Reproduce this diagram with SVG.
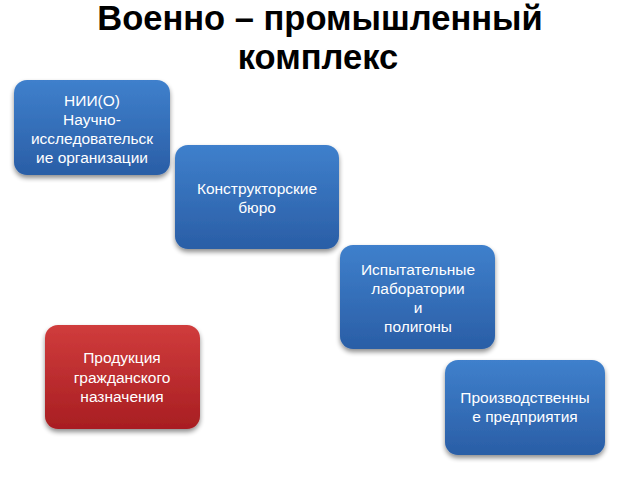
<svg xmlns="http://www.w3.org/2000/svg" width="640" height="480" viewBox="0 0 640 480">
<defs>
<linearGradient id="blue" x1="0" y1="0" x2="0" y2="1">
<stop offset="0" stop-color="#3f80cc"/>
<stop offset="1" stop-color="#2a5ea6"/>
</linearGradient>
<linearGradient id="red" x1="0" y1="0" x2="0" y2="1">
<stop offset="0" stop-color="#d03c3c"/>
<stop offset="1" stop-color="#a81e22"/>
</linearGradient>
<filter id="sh" x="-10%" y="-10%" width="120%" height="130%">
<feGaussianBlur in="SourceAlpha" stdDeviation="2.5"/>
<feOffset dx="0" dy="3" result="b"/>
<feComponentTransfer><feFuncA type="linear" slope="0.45"/></feComponentTransfer>
<feMerge><feMergeNode/><feMergeNode in="SourceGraphic"/></feMerge>
</filter>
</defs>
<style>
.t{font-family:"Liberation Sans",Arial,sans-serif;font-weight:bold;font-size:34.5px;fill:#000;text-anchor:middle}
.l{font-family:"Liberation Sans",Arial,sans-serif;font-size:15.5px;fill:#fff;text-anchor:middle}
.b{fill:url(#blue);filter:url(#sh)}
.r{fill:url(#red);filter:url(#sh)}
</style>
<rect width="640" height="480" fill="#fff"/>
<g id="title">
<text class="t" x="320" y="30">Военно – промышленный</text>
<text class="t" x="318" y="69">комплекс</text>
</g>
<g id="connectors"/>
<g id="node-nii">
<rect class="b" x="14" y="80" width="156" height="95" rx="13"/>
<text class="l" x="92" y="106">НИИ(О)</text>
<text class="l" x="92" y="125">Научно-</text>
<text class="l" x="92" y="144">исследовательск</text>
<text class="l" x="92" y="163">ие организации</text>
</g>
<g id="node-kb">
<rect class="b" x="175" y="145" width="164" height="104" rx="13"/>
<text class="l" x="257" y="194">Конструкторские</text>
<text class="l" x="257" y="213">бюро</text>
</g>
<g id="node-lab">
<rect class="b" x="340" y="245" width="155" height="104" rx="13"/>
<text class="l" x="418" y="275">Испытательные</text>
<text class="l" x="418" y="294">лаборатории</text>
<text class="l" x="418" y="313">и</text>
<text class="l" x="418" y="332">полигоны</text>
</g>
<g id="node-civil">
<rect class="r" x="45" y="325" width="155" height="104" rx="13"/>
<text class="l" x="122" y="363">Продукция</text>
<text class="l" x="122" y="383">гражданского</text>
<text class="l" x="122" y="402">назначения</text>
</g>
<g id="node-prod">
<rect class="b" x="445" y="360" width="160" height="95" rx="13"/>
<text class="l" x="525" y="403">Производственны</text>
<text class="l" x="525" y="422">е предприятия</text>
</g>
</svg>
